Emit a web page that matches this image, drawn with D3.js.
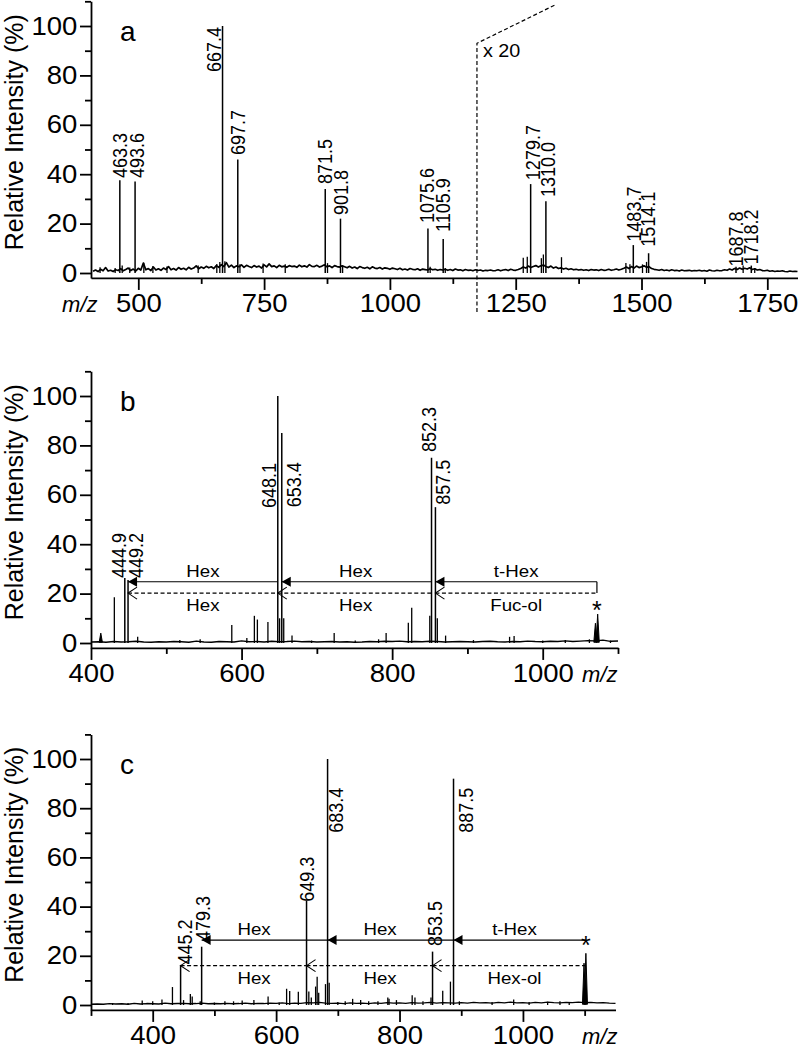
<!DOCTYPE html>
<html><head><meta charset="utf-8">
<script src="https://cdn.jsdelivr.net/npm/d3@7"></script>
<style>
body{margin:0;background:#fff}
svg{display:block}
</style>
</head><body>
<svg id="chart" width="798" height="1050"></svg>
<script>
// ---------------- DATA ----------------
// Panel a (baseline trace sampled every 5 m/z from 410)
const aNoiseStart = 410, aNoiseStep = 5;
const aNoise = [
 0.7,1.2,0.6,1.5,0.9,2.2,0.8,1.1,0.6,1.3,1.0,1.8,0.9,1.4,2.0,1.0,1.6,0.8,1.9,1.2,
 4.0,1.3,1.8,1.0,2.4,1.2,1.7,1.1,2.0,1.4,2.6,1.3,1.8,1.2,2.2,1.5,1.9,1.3,2.3,1.6,
 2.0,2.9,1.7,2.4,1.9,2.7,2.1,2.5,1.8,3.0,2.3,3.4,2.6,4.2,2.4,3.2,2.2,2.9,2.5,3.3,
 2.3,3.1,2.6,2.2,3.0,2.4,2.8,2.0,3.3,2.5,3.7,2.6,2.9,2.2,3.1,2.5,2.8,2.3,3.0,2.6,
 2.8,2.3,3.2,2.5,2.9,2.4,3.4,2.7,2.6,3.1,2.4,2.8,3.3,2.5,2.9,2.2,3.0,2.6,2.4,2.9,
 2.5,2.1,2.7,2.0,2.4,1.8,2.6,2.2,1.9,2.3,1.7,2.5,2.0,1.8,2.2,1.6,2.1,1.9,1.5,2.0,
 1.7,1.4,1.9,1.3,1.6,1.2,1.8,1.5,1.3,1.7,1.1,1.6,1.4,1.2,1.7,1.3,1.5,1.1,1.4,1.2,
 1.5,1.1,1.4,1.0,1.6,1.2,1.3,0.9,1.4,1.1,1.2,0.9,1.3,1.0,1.2,0.8,1.1,1.0,1.2,0.9,
 1.0,1.3,0.9,1.2,1.4,1.0,1.5,1.2,1.1,1.4,1.8,2.4,2.0,2.8,2.2,2.6,3.0,2.4,2.9,3.2,
 2.6,2.2,2.8,2.0,2.4,1.8,2.1,1.6,1.9,1.4,1.7,1.3,1.5,1.2,1.4,1.1,1.3,1.0,1.4,1.2,
 1.3,1.0,1.4,1.1,1.2,1.5,1.1,1.3,1.6,1.2,1.5,1.9,2.4,1.8,2.6,2.0,2.8,2.2,2.5,2.9,
 2.3,2.6,1.8,1.5,1.3,1.1,1.4,1.0,1.2,0.9,1.3,1.0,1.1,0.8,1.2,0.9,1.0,1.1,0.8,1.0,
 0.9,1.1,0.8,1.0,0.7,1.2,0.9,0.8,1.1,0.9,1.0,1.3,1.1,1.6,1.2,1.8,1.4,2.0,1.5,1.9,
 1.6,2.1,1.4,1.7,1.2,1.4,1.0,0.9,1.1,0.7,0.9,0.6,0.8,0.7,0.9,0.6,0.5,0.8,0.6,0.7,
 0.6
];
const aPeakMz  = [463.3, 493.6, 667.4, 697.7, 871.5, 901.8, 1075.6, 1105.9, 1279.7, 1310.0, 1483.7, 1514.1, 1687.8, 1718.2];
const aPeakInt = [37.6, 37.0, 100, 46, 34, 22, 18, 13.8, 36, 29, 11.3, 8, 2.5, 3];
const aPeakLabels = ["463.3","493.6","667.4","697.7","871.5","901.8","1075.6","1105.9","1279.7","1310.0","1483.7","1514.1","1687.8","1718.2"];
const aMinorMz  = [424, 454, 468, 483, 511, 529, 557, 619, 656, 662, 672, 702, 748, 792, 876, 906, 1080, 1110, 1265, 1273, 1301, 1305, 1341, 1469, 1477, 1502, 1510, 1702, 1725];
const aMinorInt = [2.3, 2.0, 3.0, 2.2, 4.2, 2.8, 2.6, 3.0, 3.6, 4.5, 4.8, 3.5, 3.8, 3.5, 4.0, 3.0, 2.5, 2.0, 6.2, 6.6, 6.0, 7.5, 6.4, 4.0, 3.5, 3.5, 4.5, 3.0, 2.0];
const aXMajor = [500, 750, 1000, 1250, 1500, 1750];
const aXMinor = [625, 875, 1125, 1375, 1625];
const aBreakMz = 1173, aBreakTop = 93, aBreakEndMz = 1328, aBreakEndVal = 108.5;
const aBreakText = "x 20";

// Panel b
const bNoiseStart = 400, bNoiseStep = 10;
const bNoise = [
 0.4,0.5,0.3,0.6,0.4,0.5,0.7,0.4,0.3,0.5,
 0.4,0.6,0.5,0.3,0.8,0.4,0.3,0.6,0.5,0.4,
 0.9,0.5,0.6,0.4,0.7,0.5,0.6,0.8,0.5,0.6,
 0.4,0.5,0.6,0.4,0.5,0.3,0.4,0.6,0.5,0.7,
 0.6,0.8,0.5,0.6,0.5,0.7,0.6,0.4,0.5,0.6,
 0.5,0.4,0.6,0.7,0.5,0.4,0.6,0.5,0.8,0.6,
 0.5,0.7,0.6,0.9,0.6,0.8,1.0,0.9,1.2,0.7,0.8
];
const bPeakMz  = [444.9, 449.2, 648.1, 653.4, 852.3, 857.5];
const bPeakInt = [26.3, 25.5, 100, 85, 75, 55];
const bPeakLabels = ["444.9","449.2","648.1","653.4","852.3","857.5"];
const bMinorMz  = [431, 462, 518, 545, 587, 607, 617, 621, 635, 650.5, 656, 667, 693, 723, 751, 782, 792, 821.5, 826, 850, 860, 871, 908, 956, 962, 1000, 1030, 1062, 1090];
const bMinorInt = [18.5, 2.5, 1.2, 1.5, 7.3, 2.0, 11, 9.5, 8.5, 10, 10, 3, 1, 4, 1, 1.5, 4, 8.2, 14.3, 11, 10, 3, 1.2, 2.5, 2.8, 1, 1.2, 1.5, 1];
const bBroadMz  = [413, 1070, 1073];
const bBroadInt = [4, 8, 11.7];
const bSolidFrom = [648.1, 852.3, 1072], bSolidTo = [449.2, 653.4, 857.5];
const bDashFrom  = [648.1, 852.3, 1072], bDashTo  = [449.2, 648.1, 857.5];
const bSolidLabels = ["Hex", "Hex", "t-Hex"];
const bDashLabels  = ["Hex", "Hex", "Fuc-ol"];
const bSolidLevel = 24.8, bDashLevel = 20.2;
const bStarMz = 1072, bStarVal = 15.5;
const bXMajor = [400, 600, 800, 1000];
const bXMinor = [500, 700, 900, 1100];

// Panel c
const cNoiseStart = 300, cNoiseStep = 10;
const cNoise = [
 0.3,0.4,0.3,0.6,0.4,0.5,0.3,0.7,0.4,0.6,
 0.5,0.4,0.8,0.5,0.6,0.7,0.5,0.6,0.8,0.5,
 0.6,0.5,0.7,0.5,0.6,0.8,0.5,0.7,0.6,0.8,
 0.7,0.9,0.6,0.8,0.7,1.0,0.9,1.1,0.8,0.7,
 0.8,0.6,0.9,0.7,0.8,0.6,0.9,0.7,1.0,0.8,
 0.9,0.7,1.0,0.8,0.9,1.1,0.8,1.0,0.9,0.8,
 1.0,0.8,1.1,0.9,1.0,0.8,1.1,0.9,1.2,0.9,
 1.0,0.8,1.1,0.9,1.2,1.0,0.9,1.1,1.0,1.2,
 1.0,1.1,0.9,1.0,0.8,0.7
];
const cPeakMz  = [445.2, 479.3, 649.3, 683.4, 853.5, 887.5];
const cPeakInt = [16.3, 23.7, 42.4, 100, 21.7, 92];
const cPeakLabels = ["445.2","479.3","649.3","683.4","853.5","887.5"];
const cMinorMz  = [335, 360, 383, 400, 415, 432, 450, 461, 464, 477, 500, 517, 531, 545, 564, 587, 605, 617, 622, 636, 653, 657, 664, 666.5, 669, 680, 686, 700, 712, 724, 737, 750, 765, 781, 783, 795, 820.5, 825, 838, 851, 870, 882.5, 897, 950, 985, 1010, 1040, 1060, 1075];
const cMinorInt = [0.8, 0.8, 1.8, 1.5, 2.2, 7.3, 2.0, 4.5, 3.5, 1.5, 1.0, 1.5, 1.5, 1.8, 2.0, 3.5, 1.0, 6.6, 5.7, 5.4, 5.5, 3.0, 7.5, 11.5, 5.0, 8.5, 9.0, 1.2, 1.5, 2.5, 2.0, 1.5, 1.5, 3.0, 2.5, 2.0, 4.0, 3.0, 1.5, 3.0, 5.8, 9.5, 1.5, 1.2, 2.2, 1.2, 1.3, 1.5, 1.2];
const cBroadMz  = [1099, 1102];
const cBroadInt = [17, 21];
const cSolidFrom = [683.4, 887.5, 1102], cSolidTo = [479.3, 683.4, 887.5];
const cDashFrom  = [649.3, 853.5, 1102], cDashTo  = [445.2, 649.3, 853.5];
const cSolidLabels = ["Hex", "Hex", "t-Hex"];
const cDashLabels  = ["Hex", "Hex", "Hex-ol"];
const cSolidLevel = 26.4, cDashLevel = 16;
const cStarMz = 1102, cStarVal = 26.4;
const cXMajor = [400, 600, 800, 1000];
const cXMinor = [300, 500, 700, 900, 1100];

const yMajor = [0, 20, 40, 60, 80, 100];
const yMinor = [10, 30, 50, 70, 90, 110];
const yTitle = "Relative Intensity (%)";
const mzText = "m/z";

// ---------------- LAYOUT ----------------
const FONT = '"Liberation Sans", Arial, Helvetica, sans-serif';
const svg = d3.select("#chart");
const SX = 1.1; // horizontal stretch of the original figure's lettering

function drawPanel(P) {
  const g = svg.append("g");
  const x = d3.scaleLinear().domain(P.xDomain).range(P.xRange);
  const y = d3.scaleLinear().domain([-2, 110]).range([P.y0 + 2 * P.k, P.y0 - 110 * P.k]);
  const axY = y(-2);

  // baseline trace
  const pts = P.noise.map((v, i) => [P.noiseStart + i * P.noiseStep, v]);
  g.append("path").attr("d", d3.line().x(d => x(d[0])).y(d => y(d[1]))(pts))
    .attr("fill", "none").attr("stroke", "#000").attr("stroke-width", P.noiseWidth).attr("stroke-linejoin", "round");

  // minor peaks
  g.selectAll(null).data(d3.zip(P.minorMz, P.minorInt)).join("path")
    .attr("d", d => `M${x(d[0])},${y(0)}V${y(d[1])}`)
    .attr("stroke", "#000").attr("stroke-width", 1.3);
  // broad peaks
  if (P.broadMz) {
    g.selectAll(null).data(d3.zip(P.broadMz, P.broadInt)).join("path")
      .attr("d", d => `M${x(d[0]) - 1.6},${y(0.3)}L${x(d[0])},${y(d[1])}L${x(d[0]) + 1.6},${y(0.3)}Z`)
      .attr("fill", "#000").attr("stroke", "#000").attr("stroke-width", 1);
  }
  // main peaks
  g.selectAll(null).data(d3.zip(P.peakMz, P.peakInt)).join("path")
    .attr("d", d => `M${x(d[0])},${y(0)}V${y(d[1])}`)
    .attr("stroke", "#000").attr("stroke-width", 1.5);

  // peak labels
  const fs = 18;
  P.peakMz.forEach((m, i) => {
    const bx = x(m) + P.labelDx[i] + 0.358 * fs * SX;
    const by = y(P.labelBottom[i]);
    g.append("text").attr("transform", `translate(${bx},${by}) rotate(-90) scale(1,${SX})`)
      .attr("font-family", FONT).attr("font-size", fs).attr("text-anchor", "start")
      .text(P.peakLabels[i]);
  });

  // axes
  const xa = g.append("g").attr("transform", `translate(0,${axY})`)
    .call(d3.axisBottom(x).tickValues(P.xMajor).tickSize(12).tickPadding(4.75).tickFormat(d3.format("d")).tickSizeOuter(0));
  const xm = g.append("g").attr("transform", `translate(0,${axY})`)
    .call(d3.axisBottom(x).tickValues(P.xMinor).tickSize(6).tickFormat("").tickSizeOuter(0));
  xm.select(".domain").remove();
  const ya = g.append("g").attr("transform", `translate(${P.xRange[0]},0)`)
    .call(d3.axisLeft(y).tickValues(yMajor).tickSize(11).tickPadding(1.5).tickFormat(d3.format("d")).tickSizeOuter(0));
  const ym = g.append("g").attr("transform", `translate(${P.xRange[0]},0)`)
    .call(d3.axisLeft(y).tickValues(yMinor).tickSize(6).tickFormat("").tickSizeOuter(0));
  ym.select(".domain").remove();
  [xa, xm, ya, ym].forEach(a => {
    a.selectAll("path,line").attr("stroke", "#000").attr("stroke-width", 1.8);
    a.selectAll("text").attr("font-family", FONT).attr("font-size", 25).attr("fill", "#000")
      .attr("transform", `scale(${SX},1)`);
  });

  // y title
  g.append("text").attr("transform", `translate(23,${y(57)}) rotate(-90)`)
    .attr("font-family", FONT).attr("font-size", 25).attr("text-anchor", "middle").text(yTitle);
  // panel letter
  g.append("text").attr("x", 120).attr("y", y(94)).attr("font-family", FONT).attr("font-size", 28).text(P.letter);
  // m/z
  g.append("text").attr("x", P.mzX).attr("y", axY + 34.5).attr("font-family", FONT).attr("font-style", "italic")
    .attr("font-size", 22).text(mzText);

  return {g, x, y};
}

function label(g, cx, yy, txt, fs) {
  g.append("text").attr("transform", `translate(${cx},${yy}) scale(${SX},1)`).attr("text-anchor", "middle")
    .attr("font-family", FONT).attr("font-size", fs).text(txt);
}

function drawArrows(S, P) {
  const {g, x, y} = S;
  const ys = y(P.solidLevel), yd = y(P.dashLevel);
  P.solidFrom.forEach((f, i) => {
    const x1 = x(f), x0 = x(P.solidTo[i]);
    g.append("line").attr("x1", x0).attr("x2", x1).attr("y1", ys).attr("y2", ys)
      .attr("stroke", "#000").attr("stroke-width", 1.2);
    g.append("path").attr("d", `M${x0},${ys}L${x0 + 9},${ys - 5}L${x0 + 9},${ys + 5}Z`).attr("fill", "#000");
    const xd1 = x(P.dashFrom[i]), xd0 = x(P.dashTo[i]);
    g.append("line").attr("x1", xd0).attr("x2", xd1).attr("y1", yd).attr("y2", yd)
      .attr("stroke", "#000").attr("stroke-width", 1.2).attr("stroke-dasharray", "4,2.5");
    g.append("path").attr("d", `M${xd0 + 9},${yd - 6}L${xd0},${yd}L${xd0 + 9},${yd + 6}`)
      .attr("fill", "none").attr("stroke", "#000").attr("stroke-width", 1.1);
    const cx = ((x0 + x1) / 2 + (xd0 + xd1) / 2) / 2;
    label(g, cx, ys - 5, P.solidLabels[i], 17);
    label(g, cx, yd + 18, P.dashLabels[i], 17);
  });
  if (P.connector) {
    const xe = x(P.solidFrom[P.solidFrom.length - 1]);
    g.append("line").attr("x1", xe).attr("x2", xe).attr("y1", ys).attr("y2", yd)
      .attr("stroke", "#000").attr("stroke-width", 1.2);
  }
  g.append("text").attr("x", x(P.starMz)).attr("y", y(P.starVal) + 14).attr("text-anchor", "middle")
    .attr("font-family", FONT).attr("font-size", 25).text("*");
}

// Panel a
const A = drawPanel({
  xDomain: [406, 1811], xRange: [91, 798], y0: 273, k: 2.47, noiseWidth: 1.7,
  noise: aNoise, noiseStart: aNoiseStart, noiseStep: aNoiseStep,
  peakMz: aPeakMz, peakInt: aPeakInt, peakLabels: aPeakLabels,
  minorMz: aMinorMz, minorInt: aMinorInt,
  labelDx: [0, 1.5, -8.5, 0.5, 0, 0.5, -0.7, 0, 2, 2, 0.5, -0.5, 0, 0],
  labelBottom: [38.5, 38.5, 81.4, 47.8, 36, 23.5, 20.2, 16.6, 37.6, 30.8, 12.7, 10.6, 2.6, 3.4],
  xMajor: aXMajor, xMinor: aXMinor, letter: "a", mzX: 62
});
// x20 break
{
  const {g, x, y} = A;
  const xb = x(aBreakMz);
  g.append("path").attr("d", `M${xb},312V${y(aBreakTop)}L${x(aBreakEndMz)},${y(aBreakEndVal)}`)
    .attr("fill", "none").attr("stroke", "#000").attr("stroke-width", 1.2).attr("stroke-dasharray", "4,2.5");
  g.append("text").attr("transform", `translate(${xb + 6},${y(87.4)}) scale(${SX},1)`)
    .attr("font-family", FONT).attr("font-size", 18).text(aBreakText);
}

// Panel b
const B = drawPanel({
  xDomain: [400, 1100], xRange: [91, 618], y0: 643, k: 2.47, noiseWidth: 1.3,
  noise: bNoise, noiseStart: bNoiseStart, noiseStep: bNoiseStep,
  peakMz: bPeakMz, peakInt: bPeakInt, peakLabels: bPeakLabels,
  minorMz: bMinorMz, minorInt: bMinorInt, broadMz: bBroadMz, broadInt: bBroadInt,
  labelDx: [-5.5, 8, -8.5, 12.5, -2.5, 7],
  labelBottom: [26.3, 26.3, 54.7, 55, 77.3, 56],
  xMajor: bXMajor, xMinor: bXMinor, letter: "b", mzX: 582
});
drawArrows(B, {solidFrom: bSolidFrom, solidTo: bSolidTo, dashFrom: bDashFrom, dashTo: bDashTo,
  solidLevel: bSolidLevel, dashLevel: bDashLevel, solidLabels: bSolidLabels, dashLabels: bDashLabels,
  connector: true, starMz: bStarMz, starVal: bStarVal});

// Panel c
const C = drawPanel({
  xDomain: [300, 1150], xRange: [91, 615.5], y0: 1005, k: 2.46, noiseWidth: 1.3,
  noise: cNoise, noiseStart: cNoiseStart, noiseStep: cNoiseStep,
  peakMz: cPeakMz, peakInt: cPeakInt, peakLabels: cPeakLabels,
  minorMz: cMinorMz, minorInt: cMinorInt, broadMz: cBroadMz, broadInt: cBroadInt,
  labelDx: [4.5, 1.5, 0, 8, 2, 12],
  labelBottom: [16.5, 26, 42, 70, 24, 70],
  xMajor: cXMajor, xMinor: cXMinor, letter: "c", mzX: 582
});
drawArrows(C, {solidFrom: cSolidFrom, solidTo: cSolidTo, dashFrom: cDashFrom, dashTo: cDashTo,
  solidLevel: cSolidLevel, dashLevel: cDashLevel, solidLabels: cSolidLabels, dashLabels: cDashLabels,
  connector: false, starMz: cStarMz, starVal: cStarVal});
</script>
</body></html>
